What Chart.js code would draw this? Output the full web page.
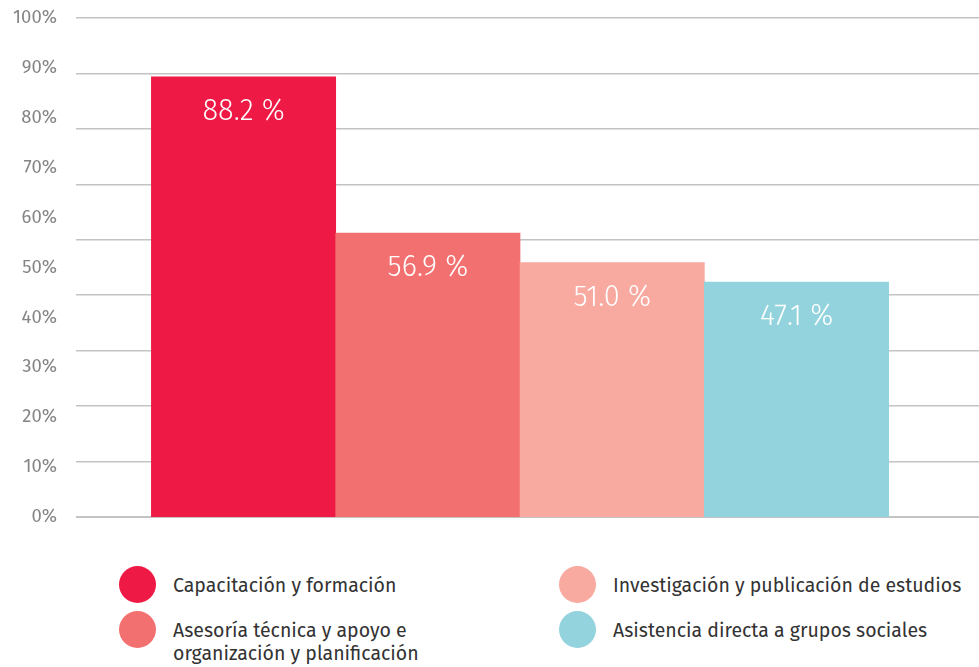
<!DOCTYPE html>
<html lang="es">
<head>
<meta charset="utf-8">
<script src="https://cdn.jsdelivr.net/npm/chart.js@4/dist/chart.umd.min.js"></script>
<style>
  body { margin: 0; background: #fff; width: 979px; height: 667px; position: relative; overflow: hidden; }
  #grafico { position: absolute; left: 0; top: 0; }
  #leyenda { position: absolute; left: 119px; top: 566px; display: grid;
    grid-template-columns: 440px 420px; row-gap: 8px;
    font-family: "Fira Sans", "Open Sans", sans-serif; font-size: 19.5px; color: #333; }
  .item { display: flex; align-items: flex-start; }
  .bola { width: 37px; height: 37px; border-radius: 50%; flex: none; }
  .texto { margin-left: 17px; padding-top: 8px; line-height: 23px; width: 270px; }
  .item.derecha .texto { width: 380px; }
</style>
</head>
<body>
<canvas id="grafico" width="979" height="534"></canvas>
<div id="leyenda"></div>
<script>
// datos
const categorias = [
  "Capacitación y formación",
  "Asesoría técnica y apoyo e organización y planificación",
  "Investigación y publicación de estudios",
  "Asistencia directa a grupos sociales"
];
const valores = [88.2, 56.9, 51.0, 47.1];
const posiciones = [1, 2, 3, 4];
const colores = ["#EE1A45", "#F2706F", "#F8A9A0", "#92D3DD"];
const ticksY = [0, 10, 20, 30, 40, 50, 60, 70, 80, 90, 100];
const lineasGuia = [0, 1, 2, 3, 4, 5, 6, 7, 8, 9];

// leyenda (orden por columnas)
const ordenLeyenda = [0, 2, 1, 3];
const leyenda = document.getElementById("leyenda");
ordenLeyenda.forEach((i, k) => {
  const item = document.createElement("div");
  item.className = "item" + (k % 2 === 1 ? " derecha" : "");
  item.innerHTML = `<span class="bola" style="background:${colores[i]}"></span><span class="texto">${categorias[i]}</span>`;
  leyenda.appendChild(item);
});

const etiquetasBarras = {
  id: "etiquetasBarras",
  afterDatasetsDraw(chart) {
    const ctx = chart.ctx;
    const meta = chart.getDatasetMeta(0);
    ctx.save();
    ctx.fillStyle = "#fff";
    ctx.font = '300 29px "Fira Sans", "Open Sans", sans-serif';
    ctx.textAlign = "center";
    ctx.textBaseline = "middle";
    meta.data.forEach((barra, i) => {
      ctx.fillText(valores[i].toFixed(1) + " %", barra.x, barra.y + 35);
    });
    ctx.restore();
  }
};

// sin relleno extra arriba/abajo por las etiquetas
const sinRelleno = s => { s.paddingTop = 0; s.paddingBottom = 0; };

new Chart(document.getElementById("grafico").getContext("2d"), {
  type: "bar",
  data: {
    datasets: [{
      data: posiciones.map((p, i) => ({ x: p, y: valores[i] })),
      backgroundColor: colores,
      borderWidth: 0,
      barPercentage: 1,
      categoryPercentage: 1
    }]
  },
  options: {
    responsive: false,
    animation: false,
    layout: { padding: { top: 18, bottom: 17, left: 0, right: 0 } },
    plugins: { legend: { display: false }, tooltip: { enabled: false } },
    scales: {
      x: {
        type: "linear",
        offset: false,
        min: 0.091,
        max: 4.99,
        display: false,
        afterBuildTicks: s => { s.ticks = posiciones.map(v => ({ value: v })); }
      },
      y: {
        min: 0,
        max: 100,
        afterBuildTicks: s => { s.ticks = ticksY.map(v => ({ value: v })); },
        afterFit: s => { s.width = 76; sinRelleno(s); },
        grid: { display: false, drawTicks: false },
        border: { display: false },
        ticks: {
          padding: 19,
          color: "#858585",
          font: { family: '"Fira Sans", "Open Sans", sans-serif', size: 18.5 },
          callback: v => v + "%"
        }
      },
      guia: {
        position: "right",
        min: 0,
        max: 9,
        afterBuildTicks: s => { s.ticks = lineasGuia.map(v => ({ value: v })); },
        afterFit: s => { s.width = 0; sinRelleno(s); },
        ticks: { display: false, padding: 0 },
        border: { display: false },
        grid: {
          drawTicks: false,
          color: "#c3c3c3",
          lineWidth: c => (c.tick && c.tick.value === 0 ? 2 : 1.5)
        }
      }
    }
  },
  plugins: [etiquetasBarras]
});
</script>
</body>
</html>
